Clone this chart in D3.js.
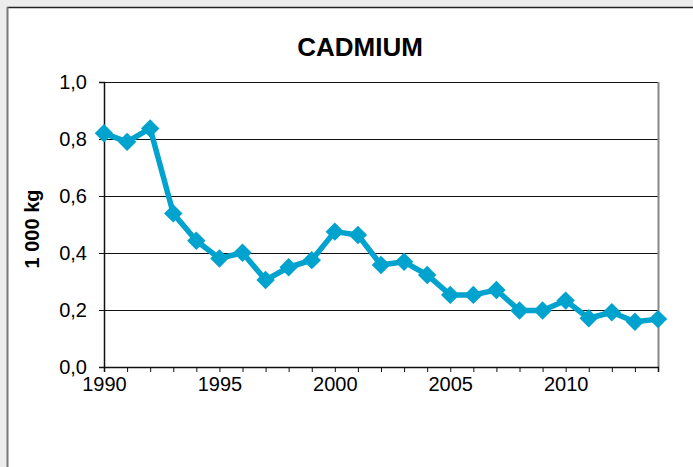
<!DOCTYPE html>
<html>
<head>
<meta charset="utf-8">
<script src="https://cdn.jsdelivr.net/npm/d3@7"></script>
<style>
  html, body { margin: 0; padding: 0; background: #ececec; }
  svg { display: block; font-family: "Liberation Sans", Arial, sans-serif; }
</style>
</head>
<body>
<svg id="chart" width="693" height="467"></svg>
<script>
// data
const years = [1990, 1991, 1992, 1993, 1994, 1995, 1996, 1997, 1998, 1999, 2000, 2001, 2002,
    2003, 2004, 2005, 2006, 2007, 2008, 2009, 2010, 2011, 2012, 2013, 2014];
const cadmium = [0.82, 0.79, 0.837, 0.539, 0.443, 0.381, 0.401, 0.305, 0.35, 0.375, 0.475, 0.463, 0.358,
    0.369, 0.323, 0.253, 0.253, 0.27, 0.198, 0.198, 0.233, 0.171, 0.192, 0.159, 0.168];
const yTicks = [0, 0.2, 0.4, 0.6, 0.8, 1.0];
const xLabels = [1990, 1995, 2000, 2005, 2010];

const svg = d3.select('#chart');

// panel
svg.append('rect').attr('x', 7).attr('y', 7).attr('width', 700).attr('height', 470).attr('fill', '#fff');
svg.append('line').attr('x1', 7).attr('x2', 693).attr('y1', 7.5).attr('y2', 7.5)
    .attr('stroke', '#222').attr('stroke-width', 1.5);
svg.append('line').attr('x1', 7.5).attr('x2', 7.5).attr('y1', 7).attr('y2', 467)
    .attr('stroke', '#777').attr('stroke-width', 2);

const plotLeft = 104, plotRight = 658, plotTop = 82, plotBottom = 367;

const x = d3.scaleLinear().domain([1990, 2014]).range([plotLeft, plotRight]);
const y = d3.scaleLinear().domain([0, 1]).range([plotBottom, plotTop]);

// grid lines
svg.append('g')
    .selectAll('line')
    .data(yTicks.filter(d => d > 0))
    .enter()
    .append('line')
    .attr('x1', plotLeft).attr('x2', plotRight)
    .attr('y1', d => y(d) + 0.5).attr('y2', d => y(d) + 0.5)
    .attr('stroke', '#111').attr('stroke-width', 1);

// right border
svg.append('line').attr('x1', plotRight + 0.5).attr('x2', plotRight + 0.5)
    .attr('y1', plotTop).attr('y2', plotBottom)
    .attr('stroke', '#888').attr('stroke-width', 2);

// y axis
const yAxis = svg.append('g')
    .attr('transform', `translate(${plotLeft},0)`)
    .call(d3.axisLeft(y).tickValues(yTicks).tickSize(5).tickPadding(12)
        .tickFormat(d => d3.format('.1f')(d).replace('.', ',')));
yAxis.select('.domain').attr('stroke', '#111').attr('stroke-width', 1.5);
yAxis.selectAll('.tick line').attr('stroke', '#111');
yAxis.selectAll('.tick text').attr('font-size', 20).attr('fill', '#000')
    .attr('font-family', '"Liberation Sans", Arial, sans-serif');

// x axis
const xAxis = svg.append('g')
    .attr('transform', `translate(0,${plotBottom})`)
    .call(d3.axisBottom(x).tickValues(years).tickSize(5).tickPadding(5)
        .tickFormat(d => xLabels.includes(d) ? d : ''));
xAxis.select('.domain').attr('stroke', '#111').attr('stroke-width', 1.5);
xAxis.selectAll('.tick line').attr('stroke', '#111');
xAxis.selectAll('.tick text').attr('font-size', 20).attr('fill', '#000')
    .attr('font-family', '"Liberation Sans", Arial, sans-serif');

// line
const line = d3.line()
    .x((d, i) => x(years[i]))
    .y(d => y(d));

svg.append('path')
    .datum(cadmium)
    .attr('d', line)
    .attr('fill', 'none')
    .attr('stroke', '#00a3cd')
    .attr('stroke-width', 5.5)
    .attr('stroke-linejoin', 'round');

// markers
const diamond = d3.symbol().type(d3.symbolSquare).size(170);
svg.append('g')
    .selectAll('path')
    .data(cadmium)
    .enter()
    .append('path')
    .attr('d', diamond)
    .attr('transform', (d, i) => `translate(${x(years[i])},${y(d)}) rotate(45)`)
    .attr('fill', '#00a3cd');

// title
svg.append('text')
    .attr('x', 360).attr('y', 56)
    .attr('text-anchor', 'middle')
    .attr('font-size', 26)
    .attr('font-weight', 'bold')
    .text('CADMIUM');

// y label
svg.append('text')
    .attr('transform', 'translate(39,229) rotate(-90)')
    .attr('text-anchor', 'middle')
    .attr('font-size', 20)
    .attr('font-weight', 'bold')
    .text('1 000 kg');
</script>
</body>
</html>
